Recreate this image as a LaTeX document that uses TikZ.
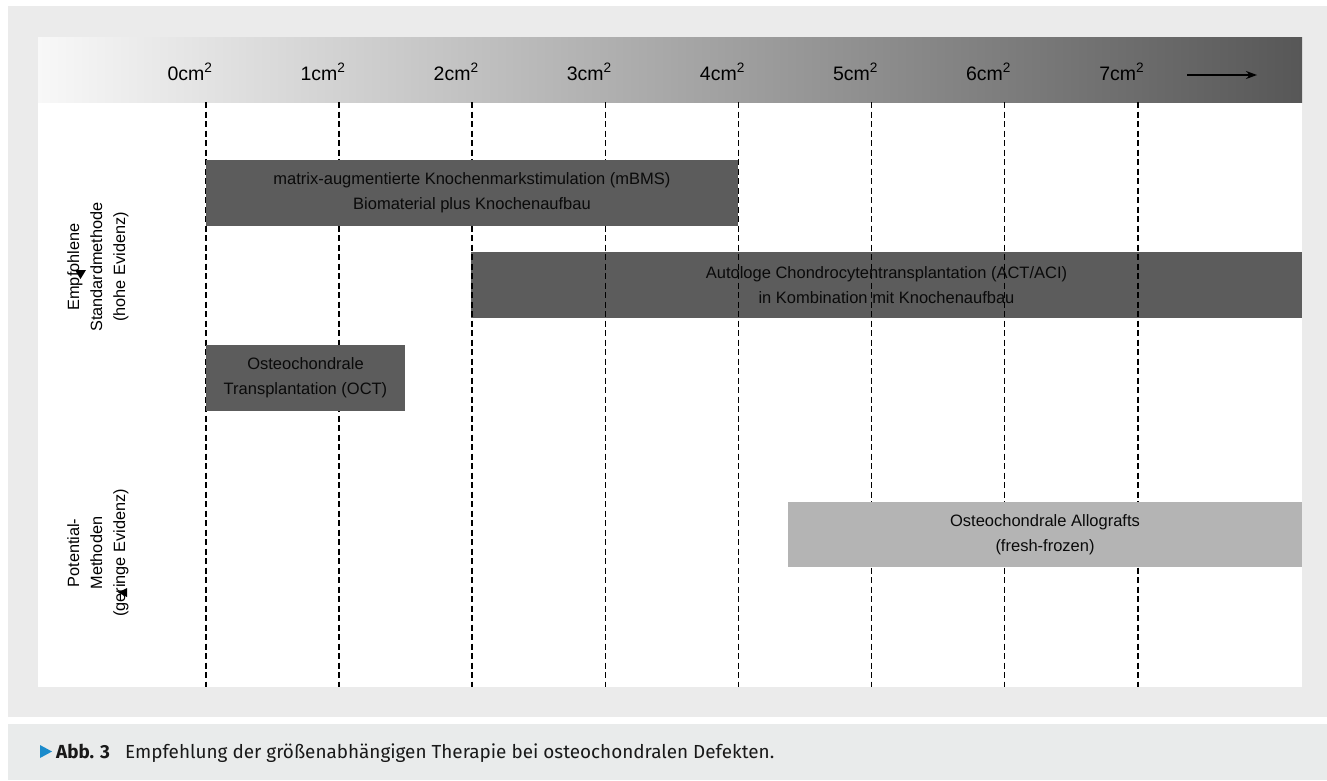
\documentclass[tikz,border=0pt]{standalone}
\usepackage{fontspec}
\setmainfont{Liberation Sans}
\newfontfamily\capfont{Fira Sans}
\usetikzlibrary{arrows.meta}
\definecolor{panelgrey}{HTML}{EBEBEB}
\definecolor{capgrey}{HTML}{E9EBEB}
\definecolor{bardark}{HTML}{5C5C5C}
\definecolor{barlight}{HTML}{B4B4B4}
\definecolor{bartext}{HTML}{0A0A0A}
\definecolor{capblue}{HTML}{1B8BCB}
\definecolor{hdrleft}{HTML}{F8F8F8}
\definecolor{hdrright}{HTML}{575757}
\begin{document}
\begin{tikzpicture}[x=1pt,y=-1pt,
  barbox/.style={fill=bardark, draw=none, text=bartext, align=center, inner sep=0pt,
    font=\fontsize{16.5}{25}\selectfont},
  lightbox/.style={barbox, fill=barlight},
  gridline/.style={dash pattern=on 6pt off 3.5pt, line width=1.6pt, black},
  ticklabel/.style={font=\fontsize{19.5}{22}\selectfont, text=black, inner sep=0pt},
  sidelabel/.style={rotate=90, align=center, font=\fontsize{16.3}{23}\selectfont, text=black, inner sep=0pt},
  glitch/.style={fill=black, draw=none},
  captext/.style={anchor=base west, inner sep=0pt, font=\capfont\fontsize{18.9}{22}\selectfont, text=black!90}
]
\useasboundingbox (0,0) rectangle (1327,780);
\fill[white] (0,0) rectangle (1327,780);
% panels
\fill[panelgrey] (8,6) rectangle (1327,717);
\fill[white] (38,37) rectangle (1302,687);
\shade[left color=hdrleft, right color=hdrright] (38,37) rectangle (1302,102);
\fill[capgrey] (8,724) rectangle (1327,780);

% bar under grid lines
\node[barbox, minimum width=831pt, minimum height=66pt] (act) at (886.5,285)
  {Autologe Chondrocytentransplantation (ACT/ACI)\\in Kombination mit Knochenaufbau};

% grid lines and tick labels
\foreach \i/\lab in {0/0,1/1,2/2,3/3,4/4,5/5,6/6,7/7}{
  \coordinate (g\i) at ({206+133.1*\i},102);
  \coordinate (h\i) at ({206+133.1*\i},687);
  \draw[gridline] (g\i) -- (h\i);
  \node[ticklabel] (lab\i) at ({190+133.1*\i},72) {\lab cm\textsuperscript{2}};
}
\coordinate (arrS) at (1187,75);
\coordinate (arrE) at (1257,75);
\draw[-{Stealth[length=11pt,width=8pt]}, line width=1.4pt] (arrS) -- (arrE);

% bars over grid lines
\node[barbox, minimum width=532pt, minimum height=66pt] (mbms) at (472,193)
  {matrix-augmentierte Knochenmarkstimulation (mBMS)\\Biomaterial plus Knochenaufbau};
\node[barbox, minimum width=199pt, minimum height=66pt] (oct) at (305.5,378)
  {Osteochondrale\\Transplantation (OCT)};
\node[lightbox, minimum width=514pt, minimum height=65pt] (allo) at (1045,534.5)
  {Osteochondrale Allografts\\(fresh-frozen)};

% side labels
\node[sidelabel] (hoch) at (98,267) {Empfohlene\\Standardmethode\\(hohe Evidenz)};
\node[sidelabel] (gering) at (98,553) {Potential-\\Methoden\\(geringe Evidenz)};
\fill[glitch] (75,270) -- (86,270) -- (80.5,279) -- cycle;
\fill[glitch] (127,588) -- (127,597) -- (118,592.5) -- cycle;

% caption
\fill[capblue] (40,745) -- (52,751.5) -- (40,758) -- cycle;
\node[captext] (cap1) at (56,758) {\textbf{Abb. 3}};
\node[captext] (cap2) at (125,758) {Empfehlung der größenabhängigen Therapie bei osteochondralen Defekten.};
\end{tikzpicture}
\end{document}
